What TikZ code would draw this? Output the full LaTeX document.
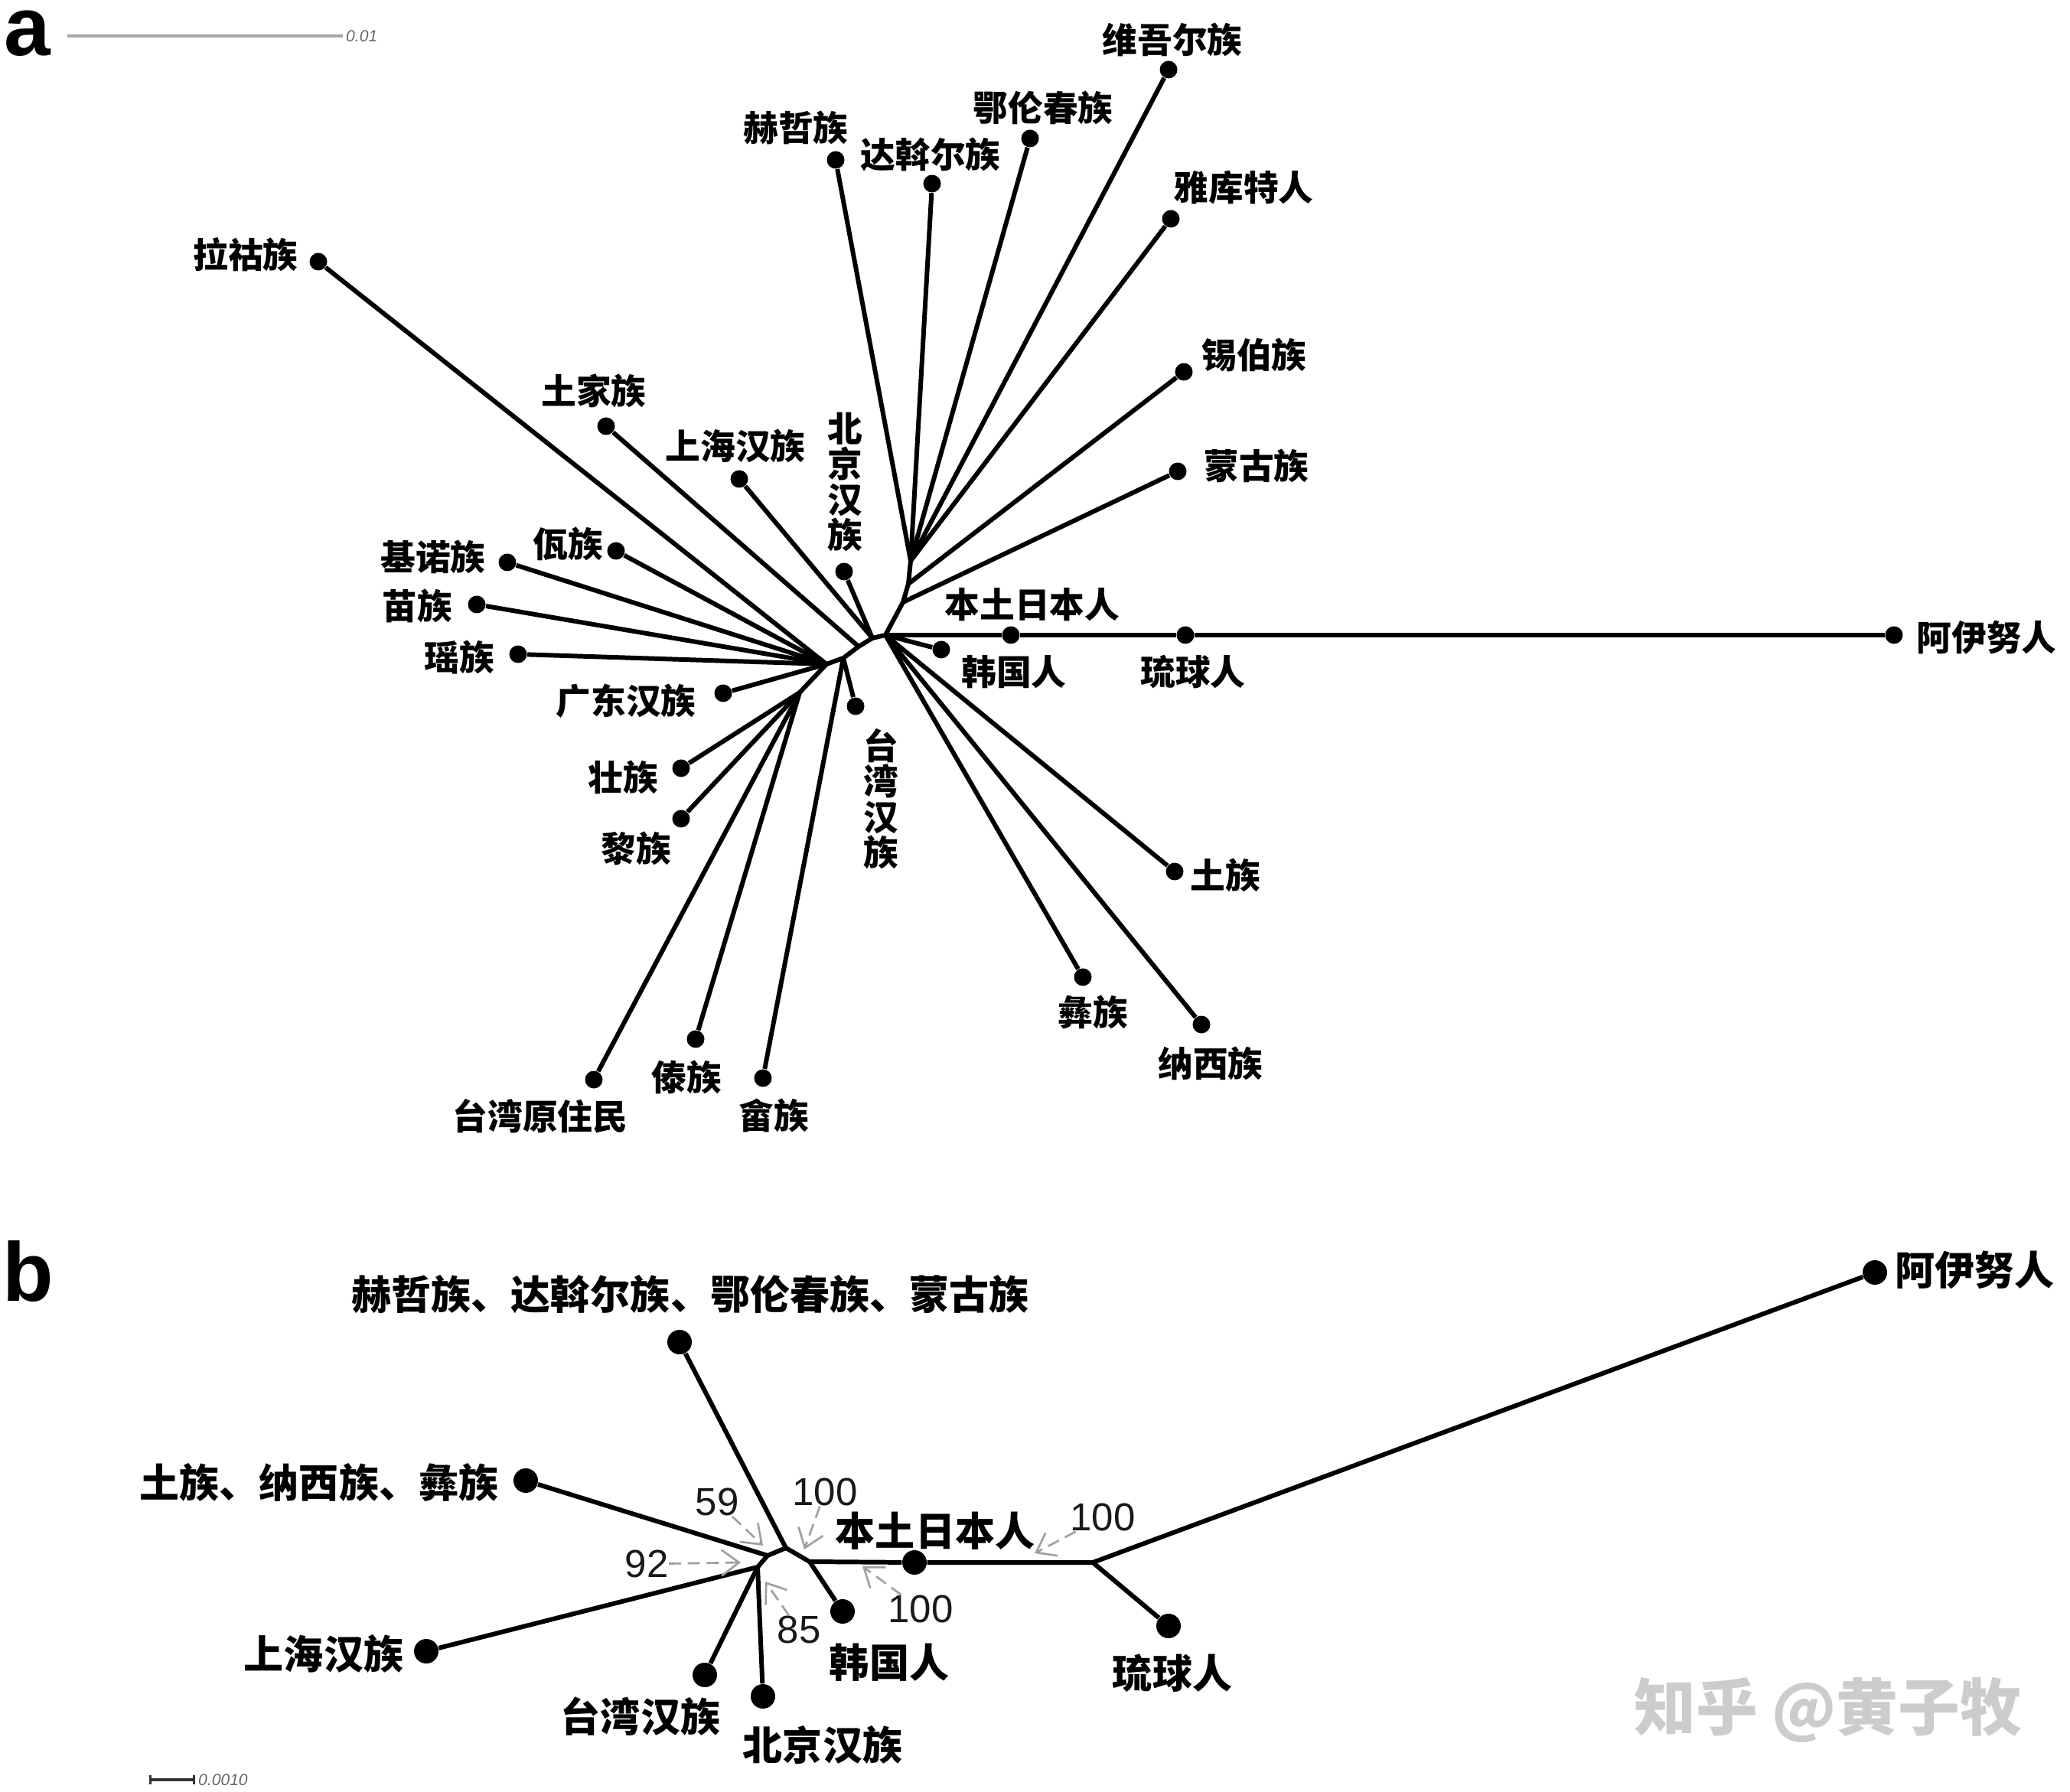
\documentclass[tikz,border=0pt]{standalone}
\usepackage{fontspec}
\setmainfont{Liberation Sans}
\newfontfamily\cjk{Noto Sans CJK SC}
\usetikzlibrary{positioning, arrows.meta}

\begin{document}
\begin{tikzpicture}[x=1cm, y=-1cm,
  leaf/.style={circle, fill=black, inner sep=0pt, minimum size=2.3mm},
  bigleaf/.style={circle, fill=black, inner sep=0pt, minimum size=3.2mm},
  branch/.style={line width=1.7pt, line join=round},
  tag/.style={font=\cjk\bfseries\fontsize{13}{13.2}\selectfont, inner sep=0pt},
  vtag/.style={tag, align=center},
  tagb/.style={font=\cjk\bfseries\fontsize{14.8}{15}\selectfont, inner sep=0pt},
  boot/.style={font=\fontsize{14.5}{15}\selectfont, text=black!90, inner sep=0pt},
  hint/.style={draw=gray!75, line width=0.75pt, dash pattern=on 4.5pt off 2.5pt,
    -{Straight Barb[length=2.3mm, width=3.4mm]}},
  panel/.style={font=\bfseries\fontsize{31}{32}\selectfont, inner sep=0pt},
  barlbl/.style={font=\itshape\fontsize{6}{7}\selectfont, text=gray!80!black, inner sep=1pt},
  wmark/.style={font=\cjk\bfseries\fontsize{23}{24}\selectfont, text=gray!40, inner sep=0pt}
]
\useasboundingbox (0,0) rectangle (27.05,23.42);

% ---------------- panel a ----------------
\node[panel] (pa) at (0.36,0.44) {a};
\coordinate (sa1) at (0.88,0.47);
\coordinate (sa2) at (4.48,0.47);
\draw[gray!70, line width=0.9pt] (sa1) -- (sa2);
\node[barlbl, right=0pt of sa2] (saL) {0.01};

% leaves
\node[leaf] (wei)    at (15.27,0.91)  {};
\node[leaf] (elun)   at (13.46,1.81)  {};
\node[leaf] (hezhe)  at (10.92,2.09)  {};
\node[leaf] (dawoer) at (12.18,2.40)  {};
\node[leaf] (yakut)  at (15.30,2.86)  {};
\node[leaf] (lahu)   at (4.16,3.42)   {};
\node[leaf] (xibo)   at (15.47,4.86)  {};
\node[leaf] (mongol) at (15.39,6.16)  {};
\node[leaf] (tujia)  at (7.92,5.57)   {};
\node[leaf] (shanghai) at (9.66,6.26) {};
\node[leaf] (beijing)  at (11.03,7.47) {};
\node[leaf] (jinuo)  at (6.63,7.35)   {};
\node[leaf] (wa)     at (8.05,7.20)   {};
\node[leaf] (miao)   at (6.23,7.90)   {};
\node[leaf] (yao)    at (6.77,8.55)   {};
\node[leaf] (guangdong) at (9.45,9.06) {};
\node[leaf] (zhuang) at (8.90,10.04)  {};
\node[leaf] (li)     at (8.90,10.70)  {};
\node[leaf] (aborig) at (7.76,14.11)  {};
\node[leaf] (dai)    at (9.09,13.58)  {};
\node[leaf] (she)    at (9.97,14.09)  {};
\node[leaf] (taiwan) at (11.18,9.23)  {};
\node[leaf] (japan)  at (13.21,8.30)  {};
\node[leaf] (korea)  at (12.30,8.49)  {};
\node[leaf] (ryukyu) at (15.49,8.30)  {};
\node[leaf] (ainu)   at (24.75,8.30)  {};
\node[leaf] (tu)     at (15.35,11.39) {};
\node[leaf] (yi)     at (14.15,12.77) {};
\node[leaf] (naxi)   at (15.70,13.39) {};

% inner nodes
\coordinate (aR)  at (11.57,8.30);
\coordinate (aU1) at (11.80,7.87);
\coordinate (aU2) at (11.87,7.63);
\coordinate (aU3) at (11.90,7.33);
\coordinate (aA1) at (11.40,8.34);
\coordinate (aA2) at (11.22,8.45);
\coordinate (aA3) at (11.02,8.60);
\coordinate (aL)  at (10.80,8.68);
\coordinate (aL2) at (10.45,9.05);

\draw[branch] (aR) -- (aU1) -- (aU2) -- (aU3);
\draw[branch] (aU3) -- (hezhe);
\draw[branch] (aU3) -- (dawoer);
\draw[branch] (aU3) -- (elun);
\draw[branch] (aU3) -- (wei);
\draw[branch] (aU3) -- (yakut);
\draw[branch] (aU2) -- (xibo);
\draw[branch] (aU1) -- (mongol);
\draw[branch] (aR) -- (japan) -- (ryukyu) -- (ainu);
\draw[branch] (aR) -- (korea);
\draw[branch] (aR) -- (tu);
\draw[branch] (aR) -- (yi);
\draw[branch] (aR) -- (naxi);
\draw[branch] (aR) -- (aA1) -- (aA2) -- (aA3) -- (aL);
\draw[branch] (aA1) -- (beijing);
\draw[branch] (aA1) -- (shanghai);
\draw[branch] (aA2) -- (tujia);
\draw[branch] (aL) -- (lahu);
\draw[branch] (aA3) -- (taiwan);
\draw[branch] (aA3) -- (she);
\draw[branch] (aL) -- (wa);
\draw[branch] (aL) -- (jinuo);
\draw[branch] (aL) -- (miao);
\draw[branch] (aL) -- (yao);
\draw[branch] (aL) -- (guangdong);
\draw[branch] (aL) -- (aL2);
\draw[branch] (aL2) -- (zhuang);
\draw[branch] (aL2) -- (li);
\draw[branch] (aL2) -- (aborig);
\draw[branch] (aL2) -- (dai);

% labels
\node[tag] (weiT)    at (15.32,0.52)  {维吾尔族};
\node[tag] (elunT)   at (13.63,1.41)  {鄂伦春族};
\node[tag] (hezheT)  at (10.40,1.67)  {赫哲族};
\node[tag] (dawoerT) at (12.16,2.02)  {达斡尔族};
\node[tag] (yakutT)  at (16.25,2.45)  {雅库特人};
\node[tag] (lahuT)   at (3.21,3.33)   {拉祜族};
\node[tag] (xiboT)   at (16.39,4.64)  {锡伯族};
\node[tag] (mongolT) at (16.42,6.09)  {蒙古族};
\node[tag] (tujiaT)  at (7.76,5.11)   {土家族};
\node[tag] (shanghaiT) at (9.61,5.83) {上海汉族};
\node[vtag] (beijingT) at (11.04,6.30) {北\\京\\汉\\族};
\node[tag] (jinuoT)  at (5.66,7.28)   {基诺族};
\node[tag] (waT)     at (7.42,7.11)   {佤族};
\node[tag] (miaoT)   at (5.45,7.92)   {苗族};
\node[tag] (yaoT)    at (6.00,8.59)   {瑶族};
\node[tag] (guangdongT) at (8.18,9.16) {广东汉族};
\node[tag] (zhuangT) at (8.14,10.16)  {壮族};
\node[tag] (liT)     at (8.31,11.09)  {黎族};
\node[tag] (aborigT) at (7.06,14.59)  {台湾原住民};
\node[tag] (daiT)    at (8.97,14.08)  {傣族};
\node[tag] (sheT)    at (10.11,14.58) {畲族};
\node[vtag] (taiwanT) at (11.51,10.44) {台\\湾\\汉\\族};
\node[tag] (japanT)  at (13.49,7.90)  {本土日本人};
\node[tag] (koreaT)  at (13.25,8.78)  {韩国人};
\node[tag] (ryukyuT) at (15.59,8.78)  {琉球人};
\node[tag] (ainuT)   at (25.96,8.33)  {阿伊努人};
\node[tag] (tuT)     at (16.01,11.44) {土族};
\node[tag] (yiT)     at (14.28,13.23) {彝族};
\node[tag] (naxiT)   at (15.82,13.90) {纳西族};

% ---------------- panel b ----------------
\node[panel] (pb) at (0.37,16.62) {b};
\coordinate (sb1) at (1.95,23.26);
\coordinate (sb2) at (2.55,23.26);
\draw[black!80, line width=0.9pt, {Bar[width=1.2mm]}-{Bar[width=1.2mm]}] (sb1) -- (sb2);
\node[barlbl, right=0pt of sb2] (sbL) {0.0010};

% leaves
\node[bigleaf] (bnorth)   at (8.88,17.54)  {};
\node[bigleaf] (bsw)      at (6.87,19.35)  {};
\node[bigleaf] (bshanghai) at (5.57,21.58) {};
\node[bigleaf] (btaiwan)  at (9.21,21.89)  {};
\node[bigleaf] (bbeijing) at (9.97,22.17)  {};
\node[bigleaf] (bkorea)   at (11.01,21.06) {};
\node[bigleaf] (bjapan)   at (11.95,20.42) {};
\node[bigleaf] (bryukyu)  at (15.27,21.25) {};
\node[bigleaf] (bainu)    at (24.50,16.63) {};

% inner nodes
\coordinate (bH1) at (10.27,20.23);
\coordinate (bH2) at (10.58,20.41);
\coordinate (bH3) at (10.03,20.33);
\coordinate (bH4) at (9.90,20.48);
\coordinate (bJ)  at (14.28,20.42);

\draw[branch] (bnorth) -- (bH1) -- (bH2) -- (bjapan) -- (bJ);
\draw[branch] (bH2) -- (bkorea);
\draw[branch] (bJ) -- (bainu);
\draw[branch] (bJ) -- (bryukyu);
\draw[branch] (bH1) -- (bH3) -- (bH4);
\draw[branch] (bH3) -- (bsw);
\draw[branch] (bH4) -- (bshanghai);
\draw[branch] (bH4) -- (btaiwan);
\draw[branch] (bH4) -- (bbeijing);

% labels
\node[tagb] (bnorthT)   at (9.02,16.92)  {赫哲族、达斡尔族、鄂伦春族、蒙古族};
\node[tagb] (bswT)      at (4.17,19.37)  {土族、纳西族、彝族};
\node[tagb] (bshanghaiT) at (4.23,21.61) {上海汉族};
\node[tagb] (btaiwanT)  at (8.37,22.43)  {台湾汉族};
\node[tagb] (bbeijingT) at (10.75,22.81) {北京汉族};
\node[tagb] (bkoreaT)   at (11.62,21.73) {韩国人};
\node[tagb] (bjapanT)   at (12.22,20.01) {本土日本人};
\node[tagb] (bryukyuT)  at (15.32,21.87) {琉球人};
\node[tagb] (bainuT)    at (25.80,16.60) {阿伊努人};

% bootstrap values
\node[boot] (v59)  at (9.37,19.63)  {59};
\node[boot] (v100a) at (10.78,19.50) {100};
\node[boot] (v92)  at (8.45,20.44)  {92};
\node[boot] (v85)  at (10.44,21.30) {85};
\node[boot] (v100b) at (12.03,21.03) {100};
\node[boot] (v100c) at (14.41,19.83) {100};

\coordinate (p59)   at (9.97,20.20);
\coordinate (p100a) at (10.51,20.25);
\coordinate (p92)   at (9.68,20.42);
\coordinate (p85)   at (10.00,20.67);
\coordinate (p100b) at (11.27,20.47);
\coordinate (p100c) at (13.52,20.30);

\draw[hint] (v59) -- (p59);
\draw[hint] (v100a) -- (p100a);
\draw[hint] (v92) -- (p92);
\draw[hint] (v85) -- (p85);
\draw[hint] (v100b) -- (p100b);
\draw[hint] (v100c) -- (p100c);

% watermark
\node[wmark] (wm) at (23.89,22.35) {知乎 @黄子牧};

\end{tikzpicture}
\end{document}
